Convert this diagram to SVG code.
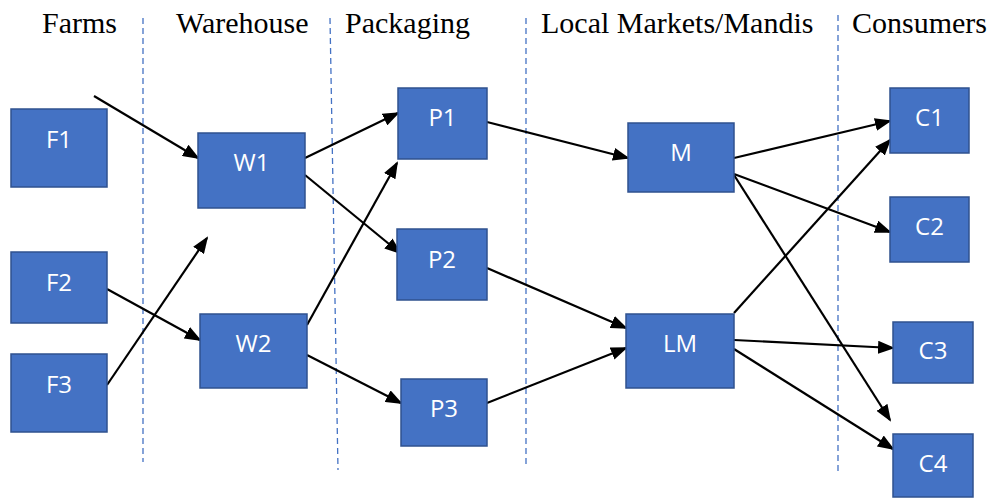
<svg xmlns="http://www.w3.org/2000/svg" width="994" height="498" viewBox="0 0 994 498">
<style>
.hdr{font-family:"Liberation Serif","Times New Roman",serif;font-size:30px;fill:#000}
.box{fill:#4472C4;stroke:#2F528F;stroke-width:1.5}
.lbl{font-family:"Open Sans","Liberation Sans",sans-serif;font-size:24px;fill:#fff;text-anchor:middle}
.sep{stroke:#4472C4;stroke-width:1.3;stroke-dasharray:6 4;fill:none}
.arr{stroke:#000;stroke-width:2.2;fill:none;marker-end:url(#ah)}
</style>
<defs>
<marker id="ah" markerUnits="userSpaceOnUse" markerWidth="17" markerHeight="13" refX="15" refY="6.5" orient="auto">
<path d="M0,0 L17,6.5 L0,13 z" fill="#000"/>
</marker>
</defs>
<rect width="994" height="498" fill="#fff"/>
<g id="headers">
<text class="hdr" x="42" y="33">Farms</text>
<text class="hdr" x="176" y="33">Warehouse</text>
<text class="hdr" x="345" y="33">Packaging</text>
<text class="hdr" x="541" y="33">Local Markets/Mandis</text>
<text class="hdr" x="852" y="33">Consumers</text>
</g>
<g id="separators">
<line class="sep" x1="143" y1="18" x2="143" y2="462"/>
<line class="sep" x1="330" y1="18" x2="338" y2="470"/>
<line class="sep" x1="526" y1="18" x2="526" y2="466"/>
<line class="sep" x1="838" y1="15" x2="838" y2="473"/>
</g>
<g id="connectors">
<line class="arr" x1="94" y1="96" x2="198" y2="158"/>
<line class="arr" x1="107" y1="289" x2="200" y2="340"/>
<line class="arr" x1="107" y1="385" x2="207" y2="238"/>
<line class="arr" x1="305" y1="158" x2="398" y2="113"/>
<line class="arr" x1="305" y1="175" x2="400" y2="253"/>
<line class="arr" x1="307" y1="325" x2="397" y2="163"/>
<line class="arr" x1="307" y1="355" x2="401" y2="403"/>
<line class="arr" x1="487" y1="122" x2="628" y2="158"/>
<line class="arr" x1="487" y1="268" x2="626" y2="328"/>
<line class="arr" x1="487" y1="403" x2="626" y2="348"/>
<line class="arr" x1="734" y1="158" x2="890" y2="121"/>
<line class="arr" x1="734" y1="174" x2="890" y2="232"/>
<line class="arr" x1="734" y1="175" x2="890" y2="420"/>
<line class="arr" x1="734" y1="313" x2="890" y2="140"/>
<line class="arr" x1="734" y1="340" x2="893" y2="348"/>
<line class="arr" x1="734" y1="349" x2="893" y2="449"/>
</g>
<g id="F1"><rect class="box" x="11" y="109" width="96" height="78"/><text class="lbl" x="59" y="148">F1</text></g>
<g id="F2"><rect class="box" x="11" y="252" width="96" height="71"/><text class="lbl" x="59" y="291">F2</text></g>
<g id="F3"><rect class="box" x="11" y="354" width="96" height="78"/><text class="lbl" x="59" y="393">F3</text></g>
<g id="W1"><rect class="box" x="198" y="133" width="107" height="75"/><text class="lbl" x="251.5" y="171">W1</text></g>
<g id="W2"><rect class="box" x="200" y="314" width="107" height="74"/><text class="lbl" x="253.5" y="352">W2</text></g>
<g id="P1"><rect class="box" x="398" y="88" width="89" height="71"/><text class="lbl" x="442.5" y="126">P1</text></g>
<g id="P2"><rect class="box" x="397" y="229" width="90" height="71"/><text class="lbl" x="442" y="268">P2</text></g>
<g id="P3"><rect class="box" x="401" y="379" width="86" height="67"/><text class="lbl" x="444" y="417">P3</text></g>
<g id="M"><rect class="box" x="628" y="123" width="106" height="69"/><text class="lbl" x="681" y="161">M</text></g>
<g id="LM"><rect class="box" x="626" y="314" width="108" height="74"/><text class="lbl" x="680" y="352">LM</text></g>
<g id="C1"><rect class="box" x="890" y="88" width="79" height="65"/><text class="lbl" x="929.5" y="126">C1</text></g>
<g id="C2"><rect class="box" x="890" y="197" width="79" height="65"/><text class="lbl" x="929.5" y="235">C2</text></g>
<g id="C3"><rect class="box" x="893" y="322" width="80" height="61"/><text class="lbl" x="933" y="359">C3</text></g>
<g id="C4"><rect class="box" x="893" y="434" width="80" height="63"/><text class="lbl" x="933" y="472">C4</text></g>
</svg>
